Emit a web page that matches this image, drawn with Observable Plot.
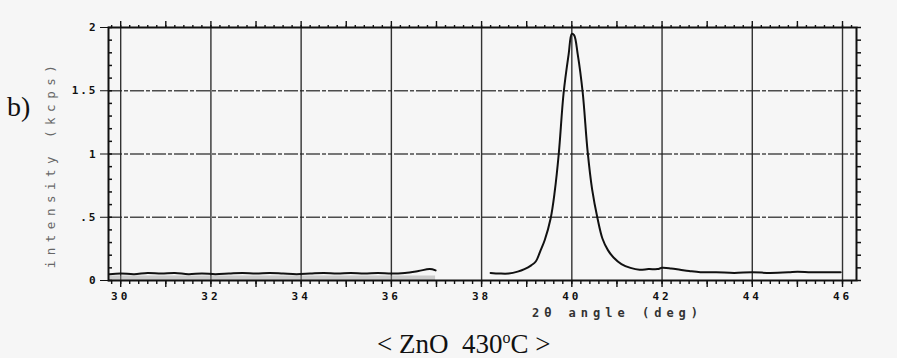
<!DOCTYPE html>
<html>
<head>
<meta charset="utf-8">
<script src="https://cdn.jsdelivr.net/npm/d3@7"></script>
<script src="https://cdn.jsdelivr.net/npm/@observablehq/plot@0.6"></script>
<style>
  html, body { margin: 0; padding: 0; background: #f6f6f6; }
  #wrap { position: relative; width: 897px; height: 358px; overflow: hidden; }
  #chart svg { display: block; }
  #chart svg text { font-family: "DejaVu Sans Mono", "Liberation Mono", monospace; }
  #tag { position: absolute; left: 7px; top: 91px; font: 28px "Liberation Serif", "Times New Roman", serif; color: #111; line-height: 32px; }
  #caption { position: absolute; left: 377px; top: 329px; font: 27px "Liberation Serif", "Times New Roman", serif; color: #111; white-space: pre; line-height: 30px; }
  #caption sup { font-size: 16px; line-height: 0; }
</style>
</head>
<body>
<div id="wrap">
  <div id="chart"></div>
  <div id="tag">b)</div>
  <div id="caption">&lt; ZnO  430<sup>o</sup>C &gt;</div>
</div>
<script>
// 2θ (deg) and intensity (kcps); NaN marks the missing stretch
const twoTheta = [29.75, 30.0, 30.3, 30.6, 30.9, 31.2, 31.5, 31.8, 32.1, 32.4, 32.7, 33.0, 33.3, 33.6, 33.9, 34.2, 34.5, 34.8, 35.1, 35.4, 35.7, 36.0, 36.3, 36.6, 36.85, 36.98,
  37.6,
  38.2, 38.4, 38.6, 38.8, 38.95, 39.1, 39.2, 39.31, 39.4, 39.53, 39.62, 39.71, 39.82, 39.93, 40.0, 40.05, 40.13, 40.24, 40.35, 40.45, 40.57, 40.68, 40.8, 40.93, 41.1, 41.3, 41.5, 41.7, 41.9, 42.0, 42.2, 42.4, 42.6, 42.85, 43.2, 43.6, 44.0, 44.4, 44.8, 45.0, 45.3, 45.6, 45.96];
const intensity = [0.05, 0.055, 0.05, 0.06, 0.055, 0.06, 0.05, 0.055, 0.05, 0.055, 0.06, 0.055, 0.06, 0.055, 0.05, 0.055, 0.06, 0.055, 0.06, 0.055, 0.06, 0.055, 0.06, 0.075, 0.09, 0.08,
  NaN,
  0.06, 0.055, 0.055, 0.07, 0.09, 0.12, 0.15, 0.24, 0.32, 0.49, 0.70, 1.0, 1.49, 1.79, 1.95, 1.94, 1.79, 1.49, 1.02, 0.72, 0.49, 0.33, 0.24, 0.18, 0.13, 0.10, 0.085, 0.09, 0.09, 0.10, 0.095, 0.085, 0.075, 0.065, 0.065, 0.06, 0.065, 0.06, 0.065, 0.07, 0.065, 0.065, 0.065];

const xDomain = [29.73, 46.31];
const yDomain = [0, 2];
const xTickValues = [30, 32, 34, 36, 38, 40, 42, 44, 46];
const xTickLabels = ["30", "32", "34", "36", "38", "40", "42", "44", "46"];
const yTickValues = [0, 0.5, 1, 1.5, 2];
const yTickLabels = ["0", ".5", "1", "1.5", "2"];
const xLabel = "2θ angle (deg)";
const yLabel = "intensity (kcps)";

const data = twoTheta.map((t, i) => ({t, v: intensity[i]}));
const minorX = d3.range(0, 84).map(i => 29.8 + i * 0.2).filter(v => v <= 46.3);
const majorX = d3.range(30, 47, 1);
const minorY = d3.range(0, 21).map(i => i / 10);

const noText = {fill: "none", label: null};

const chart = Plot.plot({
  width: 897,
  height: 330,
  marginLeft: 108,
  marginRight: 41,
  marginTop: 27,
  marginBottom: 50,
  x: {domain: xDomain},
  y: {domain: yDomain},
  style: {background: "transparent", color: "#111"},
  marks: [
    Plot.gridX(xTickValues, {stroke: "#111", strokeOpacity: 0.85, strokeWidth: 1.4}),
    Plot.gridY([0.5, 1, 1.5], {stroke: "#222", strokeOpacity: 0.8, strokeWidth: 1.3, strokeDasharray: "14,2,4,2"}),
    // noisy baseline band at the bottom-left
    Plot.areaY(data.filter(d => d.t < 37.2), {x: "t", y1: 0, y2: 0.035, fill: "#999", fillOpacity: 0.45}),
    Plot.frame({stroke: "#111", strokeWidth: 2}),
    // left axis: labels + inward minor ticks
    Plot.axisY({ticks: yTickValues, tickFormat: (d, i) => yTickLabels[i], tickSize: 8, tickPadding: 3, fontSize: 11, fontWeight: "bold", label: null}),
    Plot.axisY({ticks: minorY, tickSize: -4, strokeWidth: 1.5, ...noText}),
    // right axis ticks
    Plot.axisY({anchor: "right", ticks: minorY, tickSize: 4, strokeWidth: 1.5, ...noText}),
    // top axis ticks
    Plot.axisX({anchor: "top", ticks: minorX, tickSize: 3, strokeWidth: 1.4, ...noText}),
    Plot.axisX({anchor: "top", ticks: majorX, tickSize: 7, strokeWidth: 1.4, ...noText}),
    // bottom axis ticks + labels
    Plot.axisX({ticks: minorX, tickSize: 4, strokeWidth: 1.4, ...noText}),
    Plot.axisX({ticks: majorX, tickSize: 7, strokeWidth: 1.4, ...noText}),
    Plot.axisX({ticks: xTickValues, tickFormat: (d, i) => xTickLabels[i], tickSize: 0, tickPadding: 12, fontSize: 11, fontWeight: "bold", label: null}),
    Plot.line(data, {x: "t", y: "v", stroke: "#111", strokeWidth: 2, curve: "catmull-rom"}),
    Plot.text([xLabel], {frameAnchor: "bottom", textAnchor: "middle", dx: 135, dy: 36, fontSize: 12, fontWeight: "bold", fill: "#333"}),
    Plot.text([yLabel], {frameAnchor: "left", textAnchor: "middle", rotate: -90, dx: -58, dy: 10, fontSize: 12.5, fill: "#666"})
  ]
});
document.getElementById("chart").append(chart);
const spacing = new Map([[xLabel, "5px"], [yLabel, "5.5px"]]);
xTickLabels.forEach(s => spacing.set(s, "3px"));
yTickLabels.forEach(s => spacing.set(s, "2px"));
chart.querySelectorAll("text").forEach(t => {
  const s = spacing.get(t.textContent.trim());
  if (s) t.style.letterSpacing = s;
});
</script>
</body>
</html>
